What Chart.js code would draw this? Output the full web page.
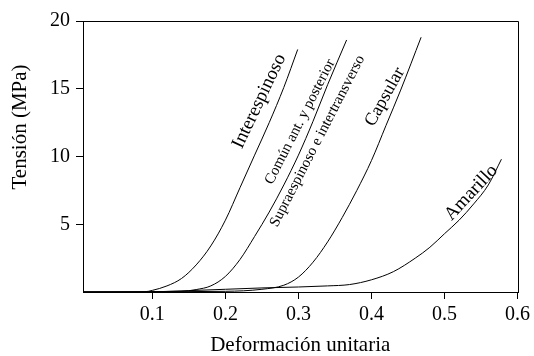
<!DOCTYPE html>
<html>
<head>
<meta charset="utf-8">
<script src="https://cdn.jsdelivr.net/npm/chart.js@4.4.1/dist/chart.umd.min.js"></script>
<style>
  html, body { margin: 0; padding: 0; background: #fff; }
</style>
</head>
<body>
<canvas id="myChart" width="534" height="356"></canvas>
<script>
// Curve data: strain (x) and stress in MPa (y)
const interespinosoStrain = [0.005, 0.09, 0.10, 0.12, 0.14, 0.16, 0.18, 0.20, 0.22, 0.24, 0.26, 0.28, 0.299];
const interespinosoStress = [0, 0.02, 0.12, 0.45, 1.0, 2.0, 3.4, 5.3, 7.7, 10.1, 12.5, 15.1, 17.9];

const comunStrain = [0.005, 0.14, 0.16, 0.18, 0.20, 0.22, 0.24, 0.26, 0.28, 0.30, 0.32, 0.34, 0.366];
const comunStress = [0, 0.05, 0.18, 0.45, 1.15, 2.4, 4.1, 5.9, 7.9, 10.1, 12.6, 15.3, 18.6];

const capsularStrain = [0.005, 0.20, 0.25, 0.28, 0.30, 0.32, 0.34, 0.36, 0.38, 0.40, 0.42, 0.44, 0.468];
const capsularStress = [0, 0.05, 0.2, 0.5, 1.1, 2.2, 3.7, 5.5, 7.5, 9.7, 12.3, 14.9, 18.8];

const amarilloStrain = [0.005, 0.08, 0.15, 0.25, 0.30, 0.34, 0.37, 0.40, 0.43, 0.46, 0.48, 0.50, 0.52, 0.54, 0.56, 0.578];
const amarilloStress = [0, 0, 0.1, 0.3, 0.37, 0.45, 0.55, 0.9, 1.5, 2.5, 3.3, 4.3, 5.3, 6.5, 7.9, 9.8];

const xTicks = [0.1, 0.2, 0.3, 0.4, 0.5, 0.6];
const yTicks = [5, 10, 15, 20];

const curveNames = ["Interespinoso", "Común ant. y posterior", "Capsular", "Amarillo"];

// text written along the curves (position in data units, angle in degrees, font px)
const curveLabels = [
	{ text: "Interespinoso", x: 0.2464, y: 14.08, angle: -64.5, size: 19 },
	{ text: "Común ant. y posterior", x: 0.3022, y: 12.56, angle: -63, size: 15 },
	{ text: "Supraespinoso e intertransverso", x: 0.326, y: 11.14, angle: -62.7, size: 15 },
	{ text: "Capsular", x: 0.4185, y: 14.4, angle: -61, size: 18 },
	{ text: "Amarillo", x: 0.5366, y: 7.33, angle: -47, size: 19 }
];

const FONT = "'Liberation Serif', 'Times New Roman', serif";

function toPoints(xs, ys) {
	return xs.map((v, i) => ({ x: v, y: ys[i] }));
}

const allStrain = [interespinosoStrain, comunStrain, capsularStrain, amarilloStrain];
const allStress = [interespinosoStress, comunStress, capsularStress, amarilloStress];

const datasets = curveNames.map((name, i) => ({
	label: name,
	data: toPoints(allStrain[i], allStress[i]),
	borderColor: "#000",
	borderWidth: 1,
	pointRadius: 0,
	fill: false,
	cubicInterpolationMode: "monotone"
}));

const frameAndText = {
	id: "frameAndText",
	afterDatasetsDraw(chart) {
		const { ctx, chartArea: a, scales } = chart;
		ctx.save();
		// top and right edges of the box
		ctx.strokeStyle = "#000";
		ctx.lineWidth = 1;
		ctx.beginPath();
		ctx.moveTo(Math.round(a.left), Math.round(a.top) + 0.5);
		ctx.lineTo(Math.round(a.right) + 0.5, Math.round(a.top) + 0.5);
		ctx.lineTo(Math.round(a.right) + 0.5, Math.round(a.bottom) + 1);
		ctx.stroke();

		ctx.fillStyle = "#000";
		ctx.textAlign = "center";
		ctx.textBaseline = "middle";
		curveLabels.forEach(l => {
			ctx.save();
			ctx.translate(scales.x.getPixelForValue(l.x), scales.y.getPixelForValue(l.y));
			ctx.rotate(l.angle * Math.PI / 180);
			ctx.font = l.size + "px " + FONT;
			ctx.fillText(l.text, 0, 0);
			ctx.restore();
		});

		// y axis title, sits above the middle of the axis as in the original
		ctx.save();
		ctx.translate(20, 127);
		ctx.rotate(-Math.PI / 2);
		ctx.font = "21px " + FONT;
		ctx.fillText("Tensión (MPa)", 0, 0);
		ctx.restore();
		ctx.restore();
	}
};

new Chart("myChart", {
	type: "line",
	data: { datasets: datasets },
	options: {
		responsive: false,
		animation: false,
		devicePixelRatio: 1,
		layout: { padding: { top: 21, right: 14, left: 0, bottom: 0 } },
		plugins: {
			legend: { display: false },
			tooltip: { enabled: false }
		},
		scales: {
			x: {
				type: "linear",
				min: 0.005,
				max: 0.6,
				afterBuildTicks: s => { s.ticks = xTicks.map(v => ({ value: v })); },
				afterFit: s => { s.height = 64; },
				grid: { drawOnChartArea: false, drawTicks: true, tickLength: 7, color: "#000" },
				border: { display: true, color: "#000", width: 1 },
				ticks: {
					color: "#000",
					font: { family: FONT, size: 20 },
					padding: 4,
					maxRotation: 0,
					autoSkip: false,
					callback: v => v.toFixed(1)
				},
				title: {
					display: true,
					text: "Deformación unitaria",
					color: "#000",
					font: { family: FONT, size: 21, lineHeight: 1 },
					padding: 0
				}
			},
			y: {
				type: "linear",
				min: 0,
				max: 20,
				afterBuildTicks: s => { s.ticks = yTicks.map(v => ({ value: v })); },
				afterFit: s => { s.width = 83; },
				grid: { drawOnChartArea: false, drawTicks: true, tickLength: 7, color: "#000" },
				border: { display: true, color: "#000", width: 1 },
				ticks: {
					color: "#000",
					font: { family: FONT, size: 20 },
					padding: 6,
					autoSkip: false,
					callback: v => String(v)
				}
			}
		}
	},
	plugins: [frameAndText]
});
</script>
</body>
</html>
